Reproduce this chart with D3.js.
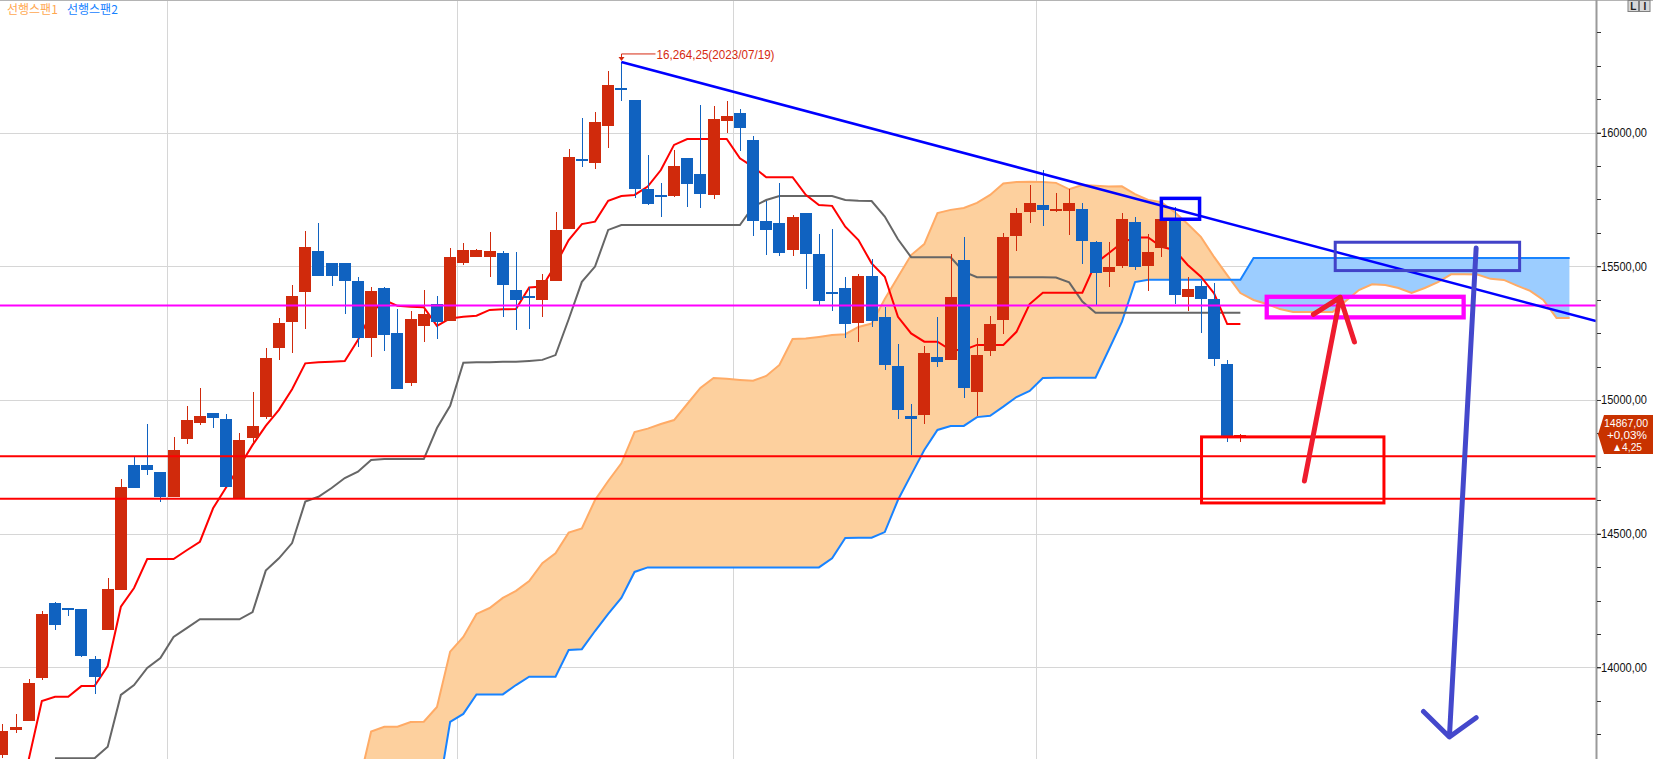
<!DOCTYPE html>
<html><head><meta charset="utf-8">
<script src="https://cdn.jsdelivr.net/npm/d3@7/dist/d3.min.js"></script>
<style>html,body{margin:0;padding:0;background:#fff;overflow:hidden}</style>
</head><body>
<svg id="c" width="1653" height="759" xmlns="http://www.w3.org/2000/svg"></svg>
<script>
// ---------------- DATA ----------------
const open = [13672,13766,13800,13961,14241,14222,14218,14031,14141,14289,
14757,14757,14731,14637,14854,14915,14951,14929,14630,14859,
14938,15196,15292,15405,15557,15512,15512,15445,15233,15418,
15251,15065,15278,15358,15297,15513,15536,15536,15550,15411,
15389,15375,15446,15640,15901,15888,16026,16163,16122,15789,
15766,15764,15905,15845,15768,16044,16073,15972,15669,15662,
15562,15699,15546,15403,15420,15289,15464,15309,15127,14940,
14944,15161,15151,15524,15031,15184,15299,15614,15704,15729,
15707,15708,15714,15591,15480,15502,15666,15502,15570,15677,
15384,15426,15377,15135,14860];
const high = [13790,13826,13957,14211,14246,14222,14220,14043,14334,14705,
14788,14911,14731,14862,14978,15045,14951,14947,14878,15030,
15194,15307,15430,15632,15662,15512,15512,15459,15421,15421,
15340,15333,15411,15389,15567,15587,15565,15628,15557,15553,
15423,15471,15703,15939,16055,16077,16230,16264.25,16122,15916,
15812,15935,15905,16103,16099,16118,16088,15987,15743,15810,
15692,15699,15621,15639,15460,15471,15526,15349,15209,14985,
15201,15312,15545,15610,15231,15314,15626,15717,15804,15860,
15774,15788,15736,15596,15591,15700,15684,15621,15704,15723,
15461,15444,15436,15148,14872];
const low = [13660,13756,13798,13954,14140,14193,14040,13902,14141,14289,
14672,14721,14620,14637,14837,14908,14896,14675,14630,14838,
14929,15151,15177,15267,15465,15427,15323,15199,15162,15184,
15042,15053,15218,15229,15297,15505,15536,15460,15312,15262,
15266,15312,15446,15640,15871,15864,15941,16119,15754,15730,
15686,15758,15723,15719,15753,16000,15931,15614,15543,15540,
15540,15416,15355,15334,15233,15218,15274,15112,14928,14794,
14910,15125,15151,15006,14940,15166,15246,15558,15661,15652,
15704,15618,15510,15355,15421,15495,15487,15409,15536,15359,
15333,15252,15128,14844,14842];
const close = [13762,13778,13942,14200,14159,14218,14043,13965,14293,14675,
14672,14739,14638,14813,14925,14940,14934,14675,14850,14903,
15157,15288,15389,15572,15465,15465,15446,15233,15408,15243,
15042,15303,15322,15293,15535,15560,15560,15557,15431,15375,
15381,15449,15636,15909,15893,16040,16178,16160,15790,15734,
15762,15875,15809,15772,16051,16062,16018,15671,15637,15551,
15685,15547,15371,15395,15285,15464,15297,15131,14963,14928,
15176,15143,15385,15046,15168,15284,15608,15699,15737,15712,
15714,15737,15596,15476,15498,15677,15498,15553,15677,15394,
15415,15377,15152,14862.75,14867];

// conversion line (red) and base line (gray)
const tenkan = [null,null,13655,13874,13890,13890,13930,13930,14005,14227,
14297,14405,14405,14405,14438,14470,14595,14674,14751,14832,
14903,14963,15040,15137,15141,15143,15146,15224,15324,15374,
15352,15349,15347,15277,15305,15311,15315,15337,15339,15340,
15421,15424,15505,15598,15658,15667,15745,15763,15767,15798,
15860,15954,15976,15976,15976,15976,15904,15872,15833,15833,
15833,15767,15729,15726,15648,15598,15511,15461,15311,15249,
15218,15218,15187,15187,15206,15206,15206,15255,15359,15401,
15401,15401,15401,15511,15549,15588,15608,15608,15573,15561,
15505,15461,15399,15284,15284];
const kijun = [null,null,null,null,13660,13660,13660,13660,13703,13897,
13934,13998,14035,14114,14147,14180,14180,14180,14180,14207,
14362,14408,14465,14620,14638,14671,14708,14732,14776,14779,
14779,14779,14779,14895,14978,15139,15141,15141,15143,15143,
15146,15150,15168,15302,15442,15499,15636,15654,15654,15654,
15654,15654,15654,15654,15654,15654,15654,15723,15748,15763,
15763,15763,15763,15763,15748,15745,15744,15686,15601,15534,
15534,15534,15534,15480,15459,15459,15459,15459,15459,15459,
15458,15440,15368,15326,15326,15326,15326,15326,15326,15326,
15326,15326,15326,15326,15326];

// leading spans (start at bar index 27, extend 25 bars past the last candle)
const spanStart = 27;
const span1 = [13550,13760,13778,13778,13796,13797,13852,14059,14114,14200,
14222,14260,14286,14323,14390,14427,14504,14520,14626,14697,
14763,14880,14893,14910,14925,14985,15045,15082,15079,15075,
15072,15090,15131,15228,15230,15236,15243,15246,15273,15286,
15378,15460,15542,15583,15699,15711,15718,15737,15767,15810,
15815,15816,15815,15812,15788,15804,15801,15798,15799,15770,
15748,15740,15703,15658,15610,15535,15467,15400,15374,15359,
15340,15329,15329,15329,15329,15370,15411,15433,15430,15419,
15400,15419,15441,15470,15470,15469,15453,15449,15428,15408,
15374,15307,15307];
const span2 = [13450,13450,13450,13450,13450,13450,13500,13796,13826,13899,
13899,13899,13934,13965,13965,13965,14065,14068,14136,14200,
14260,14357,14374,14374,14374,14374,14374,14374,14374,14374,
14374,14374,14374,14374,14374,14374,14408,14484,14485,14485,
14506,14626,14720,14813,14888,14903,14903,14936,14941,14975,
15011,15034,15082,15083,15083,15083,15083,15187,15292,15441,
15450,15450,15450,15450,15450,15450,15450,15450,15531,15531,
15531,15531,15531,15531,15531,15531,15531,15531,15531,15531,
15531,15531,15531,15531,15531,15531,15531,15531,15531,15531,
15531,15531,15531];

const yTickValues = [14000, 14500, 15000, 15500, 16000];
const yMinorStep = 125;
const monthBreaks = [12.5, 34.5, 55.5, 78.5];
const legendLabels = ["선행스팬1", "선행스팬2"];
const highIndex = 47, highDate = "2023/07/19";

// drawn annotations, in (bar index, price) coordinates
const redLevels = [14790, 14631];
const magentaLevels = [15353];
const trendLine = [[47, 16264.25], [121, 15295]];
const boxes = [
  {i0: 88.0, i1: 90.9, v0: 15676, v1: 15754, color: "#0000ff", w: 3.5},
  {i0: 101.2, i1: 115.2, v0: 15484, v1: 15590, color: "#4242c8", w: 3},
  {i0: 96.0, i1: 110.95, v0: 15309, v1: 15386, color: "#ff00ff", w: 4.3},
  {i0: 91.05, i1: 104.9, v0: 14615, v1: 14862, color: "#ff0000", w: 3}
];
const arrows = [
  {tail: [98.86, 14697], tip: [101.57, 15384], left: [99.54, 15320], right: [102.66, 15217], color: "#ee1c2e", w: 5},
  {tail: [111.9, 15568], tip: [109.87, 13740], left: [107.9, 13835], right: [111.9, 13812], color: "#4448cc", w: 5}
];

// ---------------- DRAW ----------------
const W = 1653, H = 759, plotR = 1596;
const svg = d3.select("#c");
const x = d3.scaleLinear().domain([-0.1777, 121]).range([0, plotR]);
const y = d3.scaleLinear().domain([13657.4, 16495.9]).range([H, 0]);
const numFont = "'Liberation Sans', Arial, sans-serif";

const defs = svg.append("defs");
defs.append("clipPath").attr("id", "plot").append("rect")
  .attr("x", 0).attr("y", 0).attr("width", plotR).attr("height", H);

const g = svg.append("g").attr("clip-path", "url(#plot)");

// grid
g.append("g").selectAll("line").data(yTickValues).join("line")
  .attr("x1", 0).attr("x2", plotR)
  .attr("y1", d => Math.round(y(d)) + 0.5).attr("y2", d => Math.round(y(d)) + 0.5)
  .attr("stroke", "#d6d6d6").attr("stroke-width", 1);
g.append("g").selectAll("line").data(monthBreaks).join("line")
  .attr("y1", 0).attr("y2", H)
  .attr("x1", d => Math.round(x(d)) + 0.5).attr("x2", d => Math.round(x(d)) + 0.5)
  .attr("stroke", "#d6d6d6").attr("stroke-width", 1);

// cloud
const cloud = span1.map((a, k) => ({i: spanStart + k, a, b: span2[k]}));
const cx = d => x(d.i);
defs.append("clipPath").attr("id", "aboveB").append("path")
  .attr("d", d3.area().x(cx).y0(-10).y1(d => y(d.b))(cloud));
defs.append("clipPath").attr("id", "belowB").append("path")
  .attr("d", d3.area().x(cx).y0(H + 10).y1(d => y(d.b))(cloud));
g.append("path").attr("d", d3.area().x(cx).y0(H + 10).y1(d => y(d.a))(cloud))
  .attr("fill", "#fdd09e").attr("clip-path", "url(#aboveB)");
g.append("path").attr("d", d3.area().x(cx).y0(-10).y1(d => y(d.a))(cloud))
  .attr("fill", "#9ccdff").attr("clip-path", "url(#belowB)");
g.append("path").attr("d", d3.line().x(cx).y(d => y(d.a))(cloud))
  .attr("fill", "none").attr("stroke", "#ffab66").attr("stroke-width", 2);
g.append("path").attr("d", d3.line().x(cx).y(d => y(d.b))(cloud))
  .attr("fill", "none").attr("stroke", "#1883ff").attr("stroke-width", 2);

// base & conversion lines
const idxLine = d3.line().defined(d => d != null).x((d, k) => x(k)).y(d => y(d));
g.append("path").attr("d", idxLine(kijun)).attr("fill", "none")
  .attr("stroke", "#666666").attr("stroke-width", 2);
g.append("path").attr("d", idxLine(tenkan)).attr("fill", "none")
  .attr("stroke", "#ff0000").attr("stroke-width", 2);

// candles
const bars = open.map((o, k) => ({i: k, o, h: high[k], l: low[k], c: close[k]}));
const up = "#d02a0c", down = "#1062c0";
const cg = g.append("g").attr("shape-rendering", "crispEdges");
cg.selectAll("line").data(bars).join("line")
  .attr("x1", d => Math.round(x(d.i)) + 0.5).attr("x2", d => Math.round(x(d.i)) + 0.5)
  .attr("y1", d => y(d.h)).attr("y2", d => y(d.l))
  .attr("stroke", d => d.c >= d.o ? up : down).attr("stroke-width", 1);
cg.selectAll("rect").data(bars).join("rect")
  .attr("x", d => Math.round(x(d.i) - 6)).attr("width", 12)
  .attr("y", d => { const t = y(Math.max(d.o, d.c)), b = y(Math.min(d.o, d.c)); return b - t < 2 ? (t + b) / 2 - 1 : t; })
  .attr("height", d => Math.max(2, Math.abs(y(d.o) - y(d.c))))
  .attr("fill", d => d.c >= d.o ? up : down);

// horizontal levels
g.append("g").selectAll("line").data(redLevels).join("line")
  .attr("x1", 0).attr("x2", plotR).attr("y1", d => y(d)).attr("y2", d => y(d))
  .attr("stroke", "#ff0000").attr("stroke-width", 2);
g.append("g").selectAll("line").data(magentaLevels).join("line")
  .attr("x1", 0).attr("x2", plotR).attr("y1", d => y(d)).attr("y2", d => y(d))
  .attr("stroke", "#ff00ff").attr("stroke-width", 2);

// trend line
g.append("path").attr("d", d3.line().x(d => x(d[0])).y(d => y(d[1]))(trendLine))
  .attr("fill", "none").attr("stroke", "#0000ff").attr("stroke-width", 2.5);

// boxes
g.append("g").selectAll("rect").data(boxes).join("rect")
  .attr("x", d => x(d.i0)).attr("width", d => x(d.i1) - x(d.i0))
  .attr("y", d => y(d.v1)).attr("height", d => y(d.v0) - y(d.v1))
  .attr("fill", "none").attr("stroke", d => d.color).attr("stroke-width", d => d.w);

// hand drawn arrows
const pt = p => [x(p[0]), y(p[1])];
g.append("g").selectAll("path").data(arrows).join("path")
  .attr("d", d => d3.line()([pt(d.tail), pt(d.tip)]) + d3.line()([pt(d.left), pt(d.tip), pt(d.right)]))
  .attr("fill", "none").attr("stroke", d => d.color).attr("stroke-width", d => d.w)
  .attr("stroke-linecap", "round").attr("stroke-linejoin", "round");

// high annotation
const hx = Math.round(x(highIndex)) + 0.5, hy = y(high[highIndex]);
const annColor = "#d62a10";
svg.append("path")
  .attr("d", `M${hx},${hy - 3}L${hx},${hy - 8}L${hx + 34},${hy - 8}`)
  .attr("fill", "none").attr("stroke", annColor).attr("stroke-width", 1);
svg.append("path")
  .attr("d", `M${hx - 3},${hy - 5}L${hx + 3},${hy - 5}L${hx},${hy - 1}Z`)
  .attr("fill", annColor);
const fmtHigh = d3.format(",.2f")(high[highIndex]).replace(/\.(\d\d)$/, ",$1");
svg.append("text").attr("x", hx + 35).attr("y", hy - 3)
  .attr("font-family", numFont).attr("font-size", 13)
  .attr("textLength", 118).attr("lengthAdjust", "spacingAndGlyphs")
  .attr("fill", annColor).text(`${fmtHigh}(${highDate})`);

// legend
const legendColors = ["#ffa850", "#1682ff"];
const lg = svg.append("g");
lg.selectAll("text").data(legendLabels).join("text")
  .attr("x", (d, k) => 7 + k * 60).attr("y", 13.5)
  .attr("font-family", "'Noto Sans CJK KR', sans-serif").attr("font-size", 12)
  .attr("fill", (d, k) => legendColors[k]).text(d => d);

// top border
svg.append("line").attr("x1", 0).attr("x2", W).attr("y1", 0.5).attr("y2", 0.5)
  .attr("stroke", "#b4b4b4");

// y axis
const fmtY = v => d3.format(".2f")(v).replace(".", ",");
svg.append("line").attr("x1", plotR + 0.5).attr("x2", plotR + 0.5).attr("y1", 0).attr("y2", H)
  .attr("stroke", "#9a9a9a").attr("stroke-width", 2);
const minorTicks = d3.range(13750, 16500, yMinorStep);
svg.append("g").selectAll("line").data(minorTicks).join("line")
  .attr("x1", plotR + 1).attr("x2", plotR + 5)
  .attr("y1", d => Math.round(y(d)) + 0.5).attr("y2", d => Math.round(y(d)) + 0.5)
  .attr("stroke", "#333").attr("stroke-width", 1);
const ax = svg.append("g").attr("transform", `translate(${plotR + 1},0)`)
  .call(d3.axisRight(y).tickValues(yTickValues).tickSize(4).tickFormat(fmtY));
ax.select(".domain").remove();
ax.selectAll(".tick line").attr("stroke", "#333");
ax.selectAll(".tick text").attr("x", 4).attr("font-family", numFont).attr("font-size", 12)
  .attr("fill", "#111").attr("textLength", 46).attr("lengthAdjust", "spacingAndGlyphs");

// last price tag
const last = close[close.length - 1], prev = close[close.length - 2];
const ty = y(last);
svg.append("path")
  .attr("d", `M${plotR + 2},${ty - 1}L${plotR + 8},${ty - 20.5}L${W},${ty - 20.5}L${W},${ty + 18.5}L${plotR + 8},${ty + 18.5}Z`)
  .attr("fill", "#c83200");
const tagLines = [
  fmtY(last),
  "+" + d3.format(".2f")((last - prev) / prev * 100).replace(".", ",") + "%",
  "▲" + d3.format(".2f")(last - prev).replace(".", ",")
];
const tagX = [plotR + 8, plotR + 11, plotR + 16], tagW = [44, 40, 30], tagF = [11.5, 11, 11];
svg.append("g").selectAll("text").data(tagLines).join("text")
  .attr("x", (d, k) => tagX[k]).attr("y", (d, k) => ty - 8.5 + k * 12)
  .attr("font-family", numFont).attr("font-size", (d, k) => tagF[k]).attr("fill", "#fff")
  .attr("textLength", (d, k) => tagW[k]).attr("lengthAdjust", "spacingAndGlyphs")
  .text(d => d);

// small L / I buttons top right
const btns = ["L", "I"];
const bg = svg.append("g");
bg.selectAll("rect").data(btns).join("rect")
  .attr("x", (d, k) => 1628 + k * 11.5).attr("y", 0.5).attr("width", 10.5).attr("height", 11)
  .attr("fill", "#d8d8d8").attr("stroke", "#808080");
bg.selectAll("text").data(btns).join("text")
  .attr("x", (d, k) => 1633.3 + k * 11.5).attr("y", 10).attr("text-anchor", "middle")
  .attr("font-family", numFont).attr("font-size", 10).attr("font-weight", "bold").attr("fill", "#222")
  .text(d => d);
</script>
</body></html>
